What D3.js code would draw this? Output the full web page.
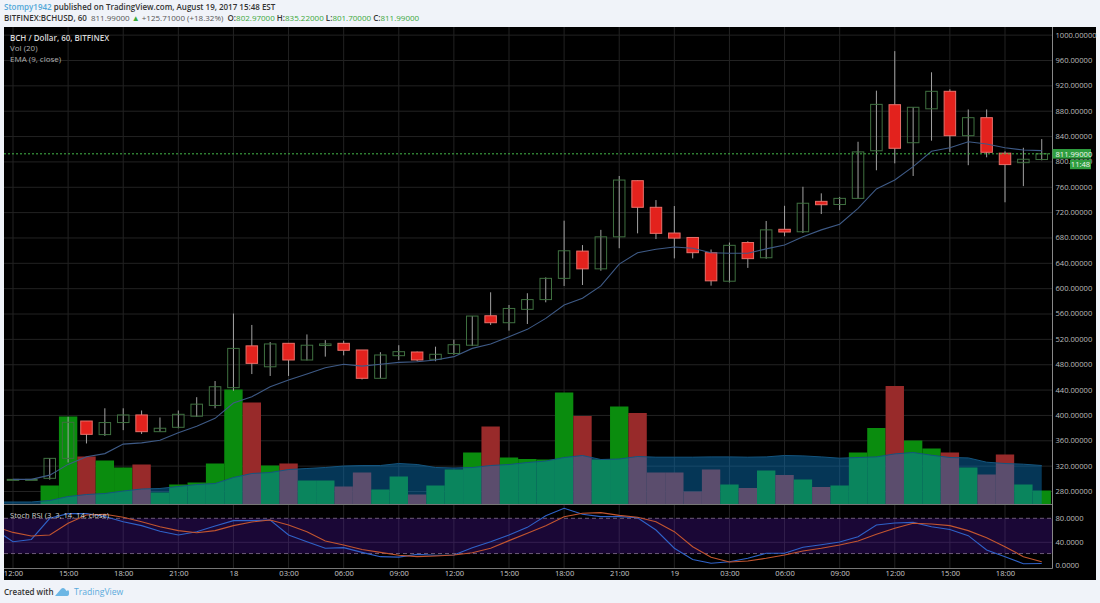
<!DOCTYPE html>
<html><head><meta charset="utf-8">
<script src="https://cdn.jsdelivr.net/npm/d3@7/dist/d3.min.js"></script>
<style>
html,body{margin:0;padding:0;background:#f0f3f9;overflow:hidden}
svg{display:block}
text{font-family:"Open Sans",sans-serif}
</style></head><body>
<svg id="c" width="1100" height="603"></svg>
<script>
// Hourly candles, index 0 = 12:00 on Aug 17
const opens=[298,298.4,300,331.5,390.4,369,388,400,373.6,380.5,398,415,443,509,476,513,486.7,509.5,513,502.5,457.8,493.5,499.3,487.8,497,510,556.5,545.5,566.6,582,615.5,658.5,630.5,681,769.6,727.6,687,680,656,611,672,648,692.9,689,737,732,741.7,816.8,889.5,829.5,883,910.6,840.6,869,813,798,802.97];
const highs=[299,299,332,397,390.4,410.5,410.5,407,396,407,428,453.5,560,542,515,513,527,518,517,502.5,499,510,500,507.7,519,556,593.5,573.5,592,617,706.5,668,692,777,770,739,729.6,680,661,672,674,706,730,760,749.6,744,831,911.6,974,885.4,940.6,913.8,882,882,816,821.5,835.22];
const lows=[297.5,297.5,298,325,355,367,376,370,373.6,379,397,410.5,438,464.5,461.5,461.5,486,492,494,456,458,486.7,484.7,484.7,495,508.7,542,533,543.5,577.7,603.5,605,627.5,663,686.5,677.5,647,647,604,609,632,646.5,682,687,717,723,741,786,797,777,832.7,815,794,806.5,735.5,761,801.7];
const closes=[298.4,298.4,331.5,388.4,369.4,388,400,373.6,379,401,417,444.5,505,481.4,512,486.7,510,512,502,457.8,494.6,499.8,486.7,495.7,510.8,556,545.5,568,582,615.5,659,630.5,681,770.6,727.6,686.5,679,656,611.6,667.6,646.6,692,688.6,734,731.7,741.7,815,890,820.7,885.4,910.6,840.6,869,814.4,795,803.4,811.99];
const volume=[0,0,19,88,48,44,37,40,12,20,22,41,115,102,39,41,24,24,18,32,15,28,10,19,35,52,78,47,45.5,45,112,88.5,45,98,91.5,32,32,13,35,20,16.5,34,29.5,25,17.5,19,52,76.5,118.5,64,56,52,37,30,50,20,14];
// The lead-in value of each study sits one hour before the first candle
const volumeMA=[2.5,2.5,2.5,4,8,10,11,13.5,15.5,16,18,20,21,27,31,32,35,36,37,38.5,39,39,41,40,37,36.5,37,39,40,42,43.5,47,49,45,45.5,48,47.3,47.3,47.3,47.6,47.6,47.3,47.6,49,48.6,47.6,46.3,47,47.6,50.6,52,49.3,47,46.6,42.3,41,40.3,39];
const ema=[298.4,298.4,305,322,334,339,354,356,360,372,382,394.6,418.8,428.8,444.5,455,464.6,474.5,480,477,480,483,484,486.7,492,505,512,523.5,535,552.4,573.5,584,603.5,638,656,661.5,665,663,656,655,655,662,668,681,692,701,726,756.5,770.6,791.7,816,821.6,831,827.5,821.6,818,817];
const stochK=[61,40,44,80,88,88,83,74,67.5,58,51.5,57,67,76,76,77,51.5,40,29,30,22,14.7,14,18.6,17,17.5,30,40,51.5,64.6,84.4,97,86.8,82.8,82.8,81,60,29,10,3.4,6,11.9,20.4,20.4,30.6,35,39.7,48.7,68.6,72,73,65.7,61,50.4,26,14.7,2.7,3];
const stochD=[66,56,50,51.5,71.5,85.6,87,81.7,74,65.7,59,55.5,59,67.5,73.7,77,68.6,57,41.4,34.6,27,22,17,14.7,15.8,17.5,21.4,29,42,54.4,67.4,82.8,88.5,89.6,85,81.7,74.3,57.2,31.7,13.6,5.6,7.3,11.9,17.5,24.3,29,34.6,41.4,52.8,63,71.5,70.3,67.5,59,47,31.7,14.7,6];
const priceTicks=[1000,960,920,880,840,800,760,720,680,640,600,560,520,480,440,400,360,320,280];
const stochTicks=[80,40,0];
const timeTickIndex=[0,3,6,9,12,15,18,21,24,27,30,33,36,39,42,45,48,51,54];
const timeTickLabels=["12:00","15:00","18:00","21:00","18","03:00","06:00","09:00","12:00","15:00","18:00","21:00","19","03:00","06:00","09:00","12:00","15:00","18:00"];
const lastPrice=811.99, countdown="11:48";

const svg=d3.select("#c");
const L=4,R=1052.5,frameR=1096,T=27,B=580,volBase=504.5,axisY=568.5;
const x=d3.scaleLinear().domain([0,54]).range([13,1005]);
const y=d3.scaleLinear().domain([280,1000]).range([491,34.65]);
const yVol=d3.scaleLinear().domain([0,120]).range([volBase,volBase-120]);
const yS=d3.scaleLinear().domain([0,80]).range([565.3,518.3]);
const bw=x(1)-x(0), body=11.5;

svg.append("rect").attr("x",L).attr("y",T).attr("width",frameR-L).attr("height",B-T).attr("fill","#000");
svg.append("defs").append("clipPath").attr("id","main").append("rect").attr("x",L).attr("y",T).attr("width",R-L).attr("height",volBase-T);
svg.select("defs").append("clipPath").attr("id","sub").append("rect").attr("x",L).attr("y",volBase).attr("width",R-L).attr("height",axisY-volBase);

// Grid
const gridStroke="#222222";
const hg=svg.append("g").attr("transform",`translate(${L},0)`).call(d3.axisRight(y).tickValues(priceTicks).tickSize(R-L).tickFormat(""));
hg.select(".domain").remove(); hg.selectAll("line").attr("stroke",gridStroke);
svg.append("g").selectAll("line").data(timeTickIndex).join("line")
  .attr("x1",d=>x(d)).attr("x2",d=>x(d)).attr("y1",T).attr("y2",axisY).attr("stroke",gridStroke);

// Stoch band
svg.append("rect").attr("x",L).attr("width",R-L).attr("y",yS(80)).attr("height",yS(20)-yS(80)).attr("fill","#1a0736");
svg.append("g").selectAll("line").data(timeTickIndex).join("line")
  .attr("x1",d=>x(d)).attr("x2",d=>x(d)).attr("y1",yS(80)).attr("y2",yS(20)).attr("stroke","#32204c");
const sg=svg.append("g").attr("transform",`translate(${L},0)`).call(d3.axisRight(yS).tickValues([40]).tickSize(R-L).tickFormat(""));
sg.select(".domain").remove(); sg.selectAll("line").attr("stroke","#352050");
svg.append("g").selectAll("line").data([80,20]).join("line")
  .attr("x1",L).attr("x2",R).attr("y1",d=>yS(d)).attr("y2",d=>yS(d))
  .attr("stroke","#6d5a78").attr("stroke-dasharray","4 3");

const main=svg.append("g").attr("clip-path","url(#main)");
// Volume
main.append("g").selectAll("rect").data(volume).join("rect")
  .attr("x",(d,i)=>x(i)-bw/2).attr("width",bw)
  .attr("y",d=>yVol(d)).attr("height",d=>volBase-yVol(d))
  .attr("fill",(d,i)=>closes[i]>=opens[i]?"#0a8c0e":"#982a2a");
const hourOf=(d,i)=>x(i-1);
main.append("path").attr("d",d3.area().x(hourOf).y0(volBase).y1(d=>yVol(d))(volumeMA))
  .attr("fill","rgba(12,125,200,0.43)");
main.append("path").attr("d",d3.line().x(hourOf).y(d=>yVol(d))(volumeMA))
  .attr("fill","none").attr("stroke","#14557f").attr("stroke-width",1);

// Candles
main.append("g").selectAll("line").data(highs).join("line")
  .attr("x1",(d,i)=>x(i)).attr("x2",(d,i)=>x(i)).attr("y1",d=>y(d)).attr("y2",(d,i)=>y(lows[i]))
  .attr("stroke","#a2a2a2").attr("stroke-width",1);
main.append("g").selectAll("rect").data(opens).join("rect")
  .attr("x",(d,i)=>x(i)-body/2).attr("width",body)
  .attr("y",(d,i)=>y(Math.max(d,closes[i])))
  .attr("height",(d,i)=>Math.max(1,Math.abs(y(d)-y(closes[i]))))
  .attr("fill",(d,i)=>closes[i]>=d?"#000":"#e3221d")
  .attr("fill-opacity",(d,i)=>closes[i]>=d?0.0:1)
  .attr("stroke",(d,i)=>closes[i]>=d?"#3f7040":"#e8706a").attr("stroke-width",1);

// EMA
main.append("path").attr("d",d3.line().x((d,i)=>x(i)).y(d=>y(d))(ema))
  .attr("fill","none").attr("stroke","#3e5a86").attr("stroke-width",1.1);

// Stoch lines
const sub=svg.append("g").attr("clip-path","url(#sub)");
sub.append("path").attr("d",d3.line().x(hourOf).y(d=>yS(d))(stochK)).attr("fill","none").attr("stroke","#2f62c8").attr("stroke-width",1.1);
sub.append("path").attr("d",d3.line().x(hourOf).y(d=>yS(d))(stochD)).attr("fill","none").attr("stroke","#c2552f").attr("stroke-width",1.1);

// Separators and axis frames
svg.append("line").attr("x1",L).attr("x2",R).attr("y1",volBase).attr("y2",volBase).attr("stroke","#777");
svg.append("line").attr("x1",L).attr("x2",R).attr("y1",axisY).attr("y2",axisY).attr("stroke","#777");
svg.append("line").attr("x1",R).attr("x2",R).attr("y1",T).attr("y2",axisY).attr("stroke","#888");

// Axes
const ax=svg.append("g").attr("transform",`translate(${R},0)`).call(d3.axisRight(y).tickValues(priceTicks).tickSize(0).tickPadding(3).tickFormat(d=>d.toFixed(5)));
ax.select(".domain").remove();
const as=svg.append("g").attr("transform",`translate(${R},0)`).call(d3.axisRight(yS).tickValues(stochTicks).tickSize(0).tickPadding(3).tickFormat(d=>d.toFixed(4)));
as.select(".domain").remove();
const tx=d3.scaleOrdinal().domain(timeTickIndex).range(timeTickLabels);
const at=svg.append("g").attr("transform",`translate(0,${axisY})`).call(
  d3.axisBottom(x).tickValues(timeTickIndex).tickSize(0).tickPadding(2).tickFormat(d=>tx(d)));
at.select(".domain").remove();
svg.selectAll("g .tick text").attr("font-size",7.6).attr("fill","#bcbcbc").attr("font-family",'"Open Sans",sans-serif');
at.selectAll("text").attr("fill","#c8c8c8");

// Last price
const lp=y(lastPrice);
svg.append("line").attr("x1",L).attr("x2",R).attr("y1",lp).attr("y2",lp).attr("stroke","#43b84a").attr("stroke-dasharray","2 2");
// The tick at 800 stays real text; the last-price boxes sit over its right part as in the reference
svg.append("rect").attr("x",R).attr("y",lp-4.8).attr("width",38.5).attr("height",9.6).attr("fill","#2f9e3f");
svg.append("text").attr("x",R+3).attr("y",lp+2.7).attr("font-size",7.6).attr("fill","#f0f4f0").text(lastPrice.toFixed(5));
svg.append("rect").attr("x",1070).attr("y",lp+5.8).attr("width",21).attr("height",9.6).attr("fill","#2f9e3f");
svg.append("text").attr("x",1080.5).attr("y",lp+13.3).attr("text-anchor","middle").attr("font-size",7.6).attr("fill","#f0f4f0").text(countdown);

// Legends
const leg=[["BCH / Dollar, 60, BITFINEX",40.5,"#d8d8d8",600],["Vol (20)",51,"#b0b0b0",400],["EMA (9, close)",62,"#b0b0b0",400]];
svg.append("g").selectAll("text").data(leg).join("text").attr("x",10).attr("y",d=>d[1]).attr("font-size",8).attr("font-weight",d=>d[3]).attr("fill",d=>d[2]).text(d=>d[0]);
svg.append("text").attr("x",10).attr("y",518).attr("font-size",7.6).attr("fill","#d0d0d0").text("Stoch RSI (3, 3, 14, 14, close)");

// Header
const h1=svg.append("text").attr("x",4).attr("y",10).attr("font-size",8).attr("font-weight",600).attr("fill","#333");
h1.append("tspan").attr("fill","#52a8d8").text("Stompy1942");
h1.append("tspan").text(" published on TradingView.com, August 19, 2017 15:48 EST");
const g="#3aa83a";
const h2=svg.append("text").attr("x",4).attr("y",21).attr("font-size",8).attr("font-weight",600).attr("fill","#333");
[["BITFINEX:BCHUSD, 60  "],["811.99000 ","#555"],["▲ ",g],["+125.71000 (+18.32%)  ","#555"],["O:"],["802.97000 ",g],["H:"],["835.22000 ",g],["L:"],["801.70000 ",g],["C:"],["811.99000",g]]
 .forEach(([t,c])=>{const s=h2.append("tspan").text(t).attr("xml:space","preserve"); if(c) s.attr("fill",c).attr("font-weight",400);});

// Footer
svg.append("text").attr("x",4).attr("y",595).attr("font-size",8).attr("font-weight",600).attr("fill","#333").text("Created with");
svg.append("path").attr("d","M55 596 L61 589 Q63 587 65 589 L66.5 591 Q69 589 69 592 Q69.5 596 67 596 Z").attr("fill","#6cb6e4");
svg.append("text").attr("x",74).attr("y",595).attr("font-size",8.6).attr("fill","#5aaadc").text("TradingView");
</script></body></html>
